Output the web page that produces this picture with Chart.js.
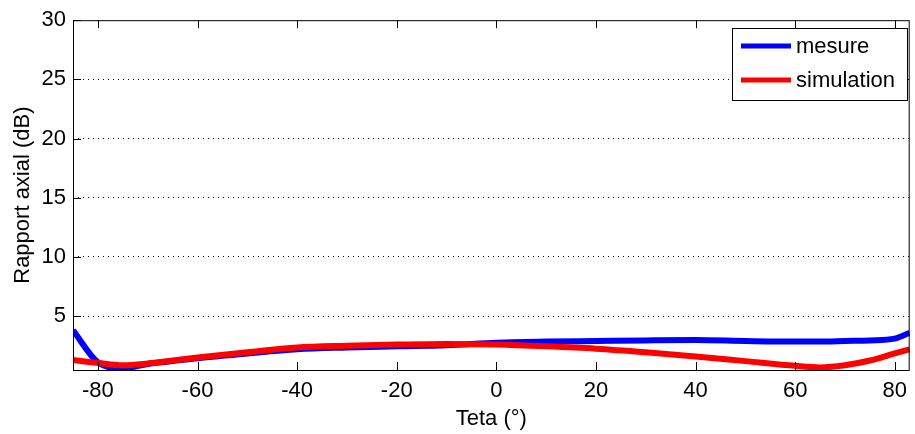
<!DOCTYPE html>
<html>
<head>
<meta charset="utf-8">
<script src="https://cdn.jsdelivr.net/npm/chart.js@4"></script>
<style>
    html, body { margin: 0; padding: 0; background: #fff; }
    #wrap { width: 915px; height: 434px; }
</style>
</head>
<body>
<div id="wrap"><canvas id="axialChart" width="915" height="434"></canvas></div>
<script>
const teta = [-85, -80, -75, -70, -65, -60, -50, -40, -30, -20, -10, 0, 10, 20, 30, 40, 50, 60, 65, 70, 75, 80, 83];
const mesure = [3.8, 1.1, 0.6, 0.95, 1.2, 1.45, 1.85, 2.2, 2.35, 2.45, 2.55, 2.75, 2.85, 2.9, 2.95, 2.98, 2.9, 2.85, 2.85, 2.9, 2.95, 3.1, 3.6];
const simulation = [1.3, 1.05, 0.85, 1.0, 1.25, 1.5, 1.95, 2.35, 2.5, 2.6, 2.65, 2.6, 2.45, 2.25, 1.95, 1.6, 1.2, 0.8, 0.67, 0.85, 1.25, 1.85, 2.2];
const xTicks = [-80, -60, -40, -20, 0, 20, 40, 60, 80];
const yTicks = [5, 10, 15, 20, 25, 30];

const FONT = "'Liberation Sans', Arial, sans-serif";

function toPoints(values) {
    return teta.map((t, i) => ({ x: t, y: values[i] }));
}

// frame, inward tick marks and the boxed legend, drawn like the matlab figure
const matlabFrame = {
    id: "matlabFrame",
    afterDraw(chart) {
        const ctx = chart.ctx;
        const a = chart.chartArea;
        const xs = chart.scales.x;
        const ys = chart.scales.y;
        ctx.save();
        ctx.strokeStyle = "#000";
        ctx.lineWidth = 1;
        ctx.strokeRect(a.left + 0.5, a.top + 0.5, a.right - a.left - 1, a.bottom - a.top);

        ctx.beginPath();
        xTicks.forEach(v => {
            const px = Math.round(xs.getPixelForValue(v)) + 0.5;
            ctx.moveTo(px, a.bottom);
            ctx.lineTo(px, a.bottom - 8);
            ctx.moveTo(px, a.top);
            ctx.lineTo(px, a.top + 8);
        });
        yTicks.forEach(v => {
            const py = Math.round(ys.getPixelForValue(v)) + 0.5;
            ctx.moveTo(a.left, py);
            ctx.lineTo(a.left + 8, py);
        });
        ctx.stroke();

        // legend box
        const box = { left: 732, top: 28, width: 175, height: 72 };
        ctx.fillStyle = "#fff";
        ctx.fillRect(box.left, box.top, box.width, box.height);
        ctx.strokeRect(box.left + 0.5, box.top + 0.5, box.width, box.height);
        ctx.font = "22px " + FONT;
        ctx.textBaseline = "middle";
        ctx.textAlign = "left";
        const rows = [46, 80];
        [chart.data.datasets[0], chart.data.datasets[1]].forEach((ds, i) => {
            ctx.strokeStyle = ds.borderColor;
            ctx.lineWidth = 5;
            ctx.beginPath();
            ctx.moveTo(741, rows[i]);
            ctx.lineTo(791, rows[i]);
            ctx.stroke();
            ctx.fillStyle = "#000";
            ctx.fillText(ds.label, 796, rows[i] + 1);
        });
        ctx.restore();
    }
};

const ctx = document.getElementById("axialChart").getContext("2d");

new Chart(ctx, {
    type: "scatter",
    data: {
        datasets: [{
            label: "mesure",
            data: toPoints(mesure),
            showLine: true,
            borderColor: "#0000ff",
            backgroundColor: "#0000ff",
            borderWidth: 6,
            pointRadius: 0,
            tension: 0.2,
            cubicInterpolationMode: "monotone",
            order: 1
        }, {
            label: "simulation",
            data: toPoints(simulation),
            showLine: true,
            borderColor: "#ff0000",
            backgroundColor: "#ff0000",
            borderWidth: 6,
            pointRadius: 0,
            tension: 0.2,
            cubicInterpolationMode: "monotone",
            order: 0
        }]
    },
    options: {
        responsive: false,
        animation: false,
        layout: {
            padding: { top: 20, right: 1, bottom: 0, left: 0 }
        },
        plugins: {
            legend: { display: false },
            tooltip: { enabled: false }
        },
        scales: {
            x: {
                type: "linear",
                min: -85,
                max: 83,
                afterBuildTicks(scale) {
                    scale.ticks = xTicks.map(v => ({ value: v }));
                },
                afterFit(scale) {
                    scale.height = 64;
                },
                grid: { display: false, drawTicks: false },
                border: { display: false },
                ticks: {
                    color: "#000",
                    padding: 8,
                    maxRotation: 0,
                    font: { family: FONT, size: 22 }
                },
                title: {
                    display: true,
                    text: "Teta (°)",
                    color: "#000",
                    padding: { top: 0, bottom: 2 },
                    font: { family: FONT, size: 22 }
                }
            },
            y: {
                min: 0.45,
                max: 30,
                afterBuildTicks(scale) {
                    scale.ticks = yTicks.map(v => ({ value: v }));
                },
                afterFit(scale) {
                    scale.width = 73;
                },
                grid: {
                    drawTicks: false,
                    color: ctx => ctx.tick && ctx.tick.value === 30 ? "rgba(0,0,0,0)" : "#000",
                    lineWidth: 1
                },
                border: { display: false, dash: [1, 4] },
                ticks: {
                    color: "#000",
                    padding: 7,
                    font: { family: FONT, size: 22 }
                },
                title: {
                    display: true,
                    text: "Rapport axial (dB)",
                    color: "#000",
                    padding: { top: 10, bottom: 0 },
                    font: { family: FONT, size: 22 }
                }
            }
        }
    },
    plugins: [matlabFrame]
});
</script>
</body>
</html>
